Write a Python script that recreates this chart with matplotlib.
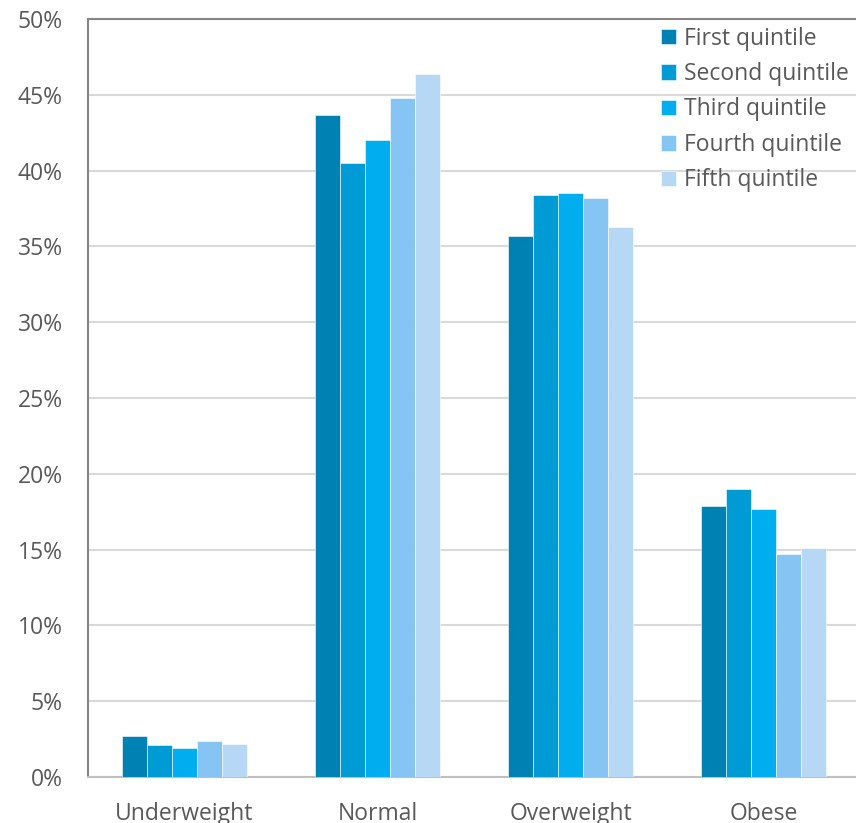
import numpy as np
import matplotlib.pyplot as plt
from matplotlib.ticker import FuncFormatter

categories = ['Underweight', 'Normal', 'Overweight', 'Obese']
series_names = ['First quintile', 'Second quintile', 'Third quintile',
                'Fourth quintile', 'Fifth quintile']
first = [2.7, 43.7, 35.7, 17.9]
second = [2.1, 40.5, 38.4, 19.0]
third = [1.9, 42.0, 38.5, 17.7]
fourth = [2.4, 44.8, 38.2, 14.7]
fifth = [2.2, 46.4, 36.3, 15.1]
colors = ['#0081B4', '#009AD5', '#00AEEF', '#86C5F3', '#B6D8F5']

plt.rcParams['font.family'] = ['Open Sans', 'DejaVu Sans']

fig = plt.figure(figsize=(8.56, 8.23), dpi=100)
ax = fig.add_axes([88 / 856, 46 / 823, 772 / 856, 758 / 823])

x = np.arange(len(categories))
w = 0.13
for i, (vals, name) in enumerate(zip([first, second, third, fourth, fifth], series_names)):
	ax.bar(x + (i - 2) * w, vals, w, color=colors[i], label=name,
		edgecolor='#ffffff', linewidth=0.4, zorder=3)

ax.set_xlim(-0.5, 3.5)
ax.set_ylim(0, 50)
ax.set_yticks(np.arange(0, 51, 5))
ax.yaxis.set_major_formatter(FuncFormatter(lambda v, p: f'{v:.0f}%'))
ax.set_xticks(x)
ax.set_xticklabels(categories)
ax.grid(axis='y', color='#d9d9d9', linewidth=1.5, zorder=0)
ax.tick_params(axis='both', length=0, labelsize=16.5, colors='#595959')
ax.tick_params(axis='x', pad=18)
ax.tick_params(axis='y', pad=18)

for s in ['left', 'top']:
	ax.spines[s].set_color('#858585')
	ax.spines[s].set_linewidth(1.5)
ax.spines['bottom'].set_color('#bfbfbf')
ax.spines['bottom'].set_linewidth(1.5)
ax.spines['right'].set_visible(False)

leg = ax.legend(loc='upper left', bbox_to_anchor=(0.742, 0.99), frameon=False,
	fontsize=16.5, handlelength=0.65, handleheight=0.65, handletextpad=0.35,
	labelspacing=0.5, borderaxespad=0, borderpad=0)
for t in leg.get_texts():
	t.set_color('#595959')

fig.savefig('out.png', dpi=100)
